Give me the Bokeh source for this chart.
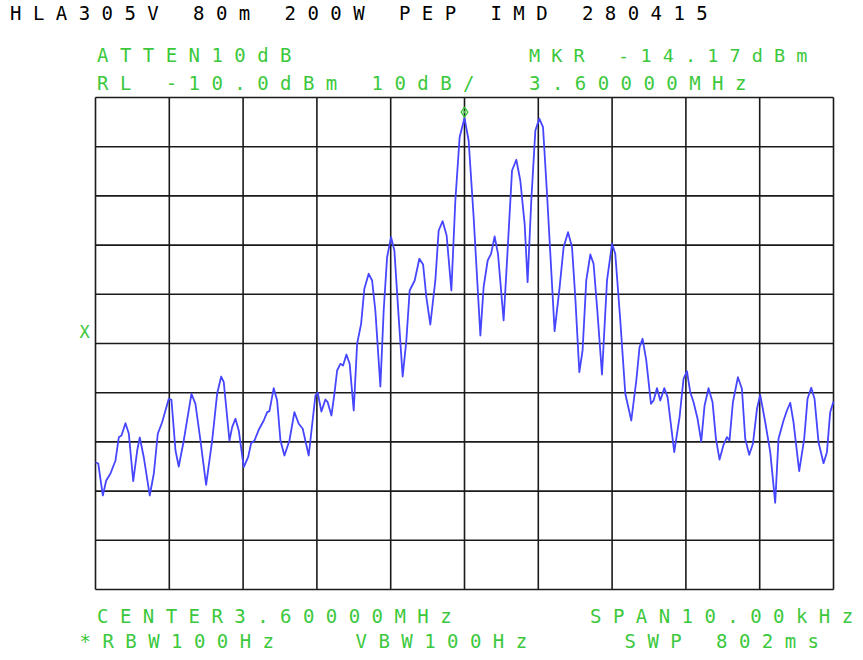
from bokeh.plotting import figure
from bokeh.models import Range1d, Label
from bokeh.embed import file_html
from bokeh.resources import INLINE

# ---------------- data ----------------
center_mhz = 3.60000
span_khz = 10.0
ref_level_dbm = -10.0
db_per_div = 10.0
marker_khz = 0.0
marker_dbm = -14.17

# frequency offset from centre (kHz) and level (dBm)
freq_khz = [
    -5.000, -4.963, -4.901, -4.855, -4.797, -4.729, -4.684, -4.648, -4.594, -4.549,
    -4.489, -4.435, -4.400, -4.346, -4.265, -4.210, -4.156, -4.097, -4.007, -3.971,
    -3.916, -3.872, -3.804, -3.700, -3.646, -3.578, -3.501, -3.419, -3.352, -3.297,
    -3.262, -3.185, -3.148, -3.104, -3.059, -2.991, -2.932, -2.891, -2.846, -2.788,
    -2.720, -2.674, -2.643, -2.585, -2.539, -2.494, -2.440, -2.372, -2.305, -2.246,
    -2.192, -2.111, -2.020, -1.989, -1.939, -1.885, -1.854, -1.803, -1.763, -1.726,
    -1.682, -1.645, -1.600, -1.556, -1.501, -1.455, -1.401, -1.357, -1.298, -1.252,
    -1.208, -1.140, -1.095, -1.049, -0.995, -0.950, -0.892, -0.838, -0.788, -0.743,
    -0.675, -0.612, -0.561, -0.517, -0.463, -0.395, -0.350, -0.296, -0.242, -0.178,
    -0.124, -0.066, 0.000, 0.056, 0.124, 0.215, 0.259, 0.314, 0.360, 0.408,
    0.454, 0.530, 0.584, 0.644, 0.702, 0.756, 0.815, 0.855, 0.905, 0.960,
    1.014, 1.064, 1.118, 1.221, 1.289, 1.343, 1.403, 1.457, 1.501, 1.556,
    1.600, 1.650, 1.705, 1.749, 1.803, 1.863, 1.931, 1.999, 2.043, 2.111,
    2.179, 2.260, 2.328, 2.372, 2.413, 2.463, 2.527, 2.562, 2.608, 2.653,
    2.707, 2.752, 2.842, 2.914, 2.968, 3.014, 3.059, 3.104, 3.158, 3.208,
    3.253, 3.307, 3.361, 3.407, 3.456, 3.510, 3.556, 3.591, 3.637, 3.705,
    3.759, 3.804, 3.858, 3.908, 3.963, 4.007, 4.075, 4.143, 4.210, 4.255,
    4.323, 4.369, 4.414, 4.458, 4.535, 4.603, 4.648, 4.698, 4.743, 4.797,
    4.865, 4.911, 4.955, 5.000,
]

level_dbm = [
    -84.13, -84.39, -90.89, -87.84, -86.42, -83.78, -79.04, -78.70, -76.20, -78.29,
    -87.99, -81.75, -79.11, -83.11, -90.89, -86.48, -78.35, -76.00, -71.24, -71.44,
    -81.75, -85.00, -79.71, -70.22, -72.26, -79.71, -88.72, -79.71, -70.22, -66.71,
    -67.87, -79.71, -77.01, -75.30, -77.68, -85.14, -83.11, -80.26, -79.71, -77.54,
    -75.65, -73.96, -73.76, -69.08, -71.58, -79.71, -82.76, -79.71, -73.96, -76.32,
    -77.34, -82.76, -70.57, -70.02, -73.82, -71.38, -71.93, -74.63, -70.22, -65.49,
    -64.13, -64.47, -62.24, -64.13, -73.62, -60.06, -56.00, -48.88, -45.83, -47.19,
    -53.29, -68.74, -53.29, -42.46, -38.39, -41.10, -54.65, -66.71, -59.39, -49.23,
    -47.19, -42.78, -43.94, -50.59, -56.14, -47.19, -37.03, -35.14, -38.05, -49.23,
    -30.93, -18.07, -14.17, -18.74, -34.33, -58.37, -48.56, -43.13, -41.77, -38.25,
    -41.77, -55.32, -41.10, -24.84, -22.66, -26.87, -35.67, -47.54, -30.93, -16.71,
    -14.30, -16.04, -29.57, -57.50, -48.56, -40.43, -37.38, -40.43, -50.59, -65.83,
    -61.42, -47.19, -41.91, -43.80, -53.96, -66.30, -47.19, -39.74, -41.77, -55.32,
    -70.22, -75.65, -67.52, -60.75, -59.04, -63.45, -72.26, -71.58, -69.08, -71.58,
    -69.08, -70.91, -82.09, -74.98, -67.17, -65.63, -69.90, -71.93, -75.30, -79.92,
    -72.60, -69.08, -71.93, -79.37, -83.58, -80.59, -79.04, -79.71, -71.93, -66.85,
    -69.21, -79.37, -82.62, -80.39, -73.27, -70.43, -76.00, -82.09, -92.38, -79.37,
    -75.65, -73.62, -72.05, -76.00, -85.95, -79.37, -71.24, -69.00, -71.24, -80.06,
    -84.33, -82.09, -73.96, -71.79,
]

title_text = "HLA305V 80m 200W PEP IMD 280415"
top_left_lines = ["ATTEN10dB", "RL -10.0dBm 10dB/"]
top_right_lines = ["MKR -14.17dBm", "3.60000MHz"]
bottom_left_1 = "CENTER3.60000MHz"
bottom_right_1 = "SPAN10.00kHz"
bottom_row_2 = ["*RBW100Hz", "VBW100Hz", "SWP 802ms"]

# ---------------- layout ----------------
W, H = 863, 660
FL, FT, FR, FB = 95, 97, 833, 589   # graticule edges in page pixels
GREEN = "#3cc83c"
BLUE = "#4646ff"
MONO = "DejaVu Sans Mono"
FS = "19px"


def spaced(s):
    # analyser character cells: one blank cell between glyphs,
    # real blanks kept as no-break spaces so they do not collapse
    return " ".join("\u00a0" if c == " " else c for c in s)


half = span_khz / 2
bottom_level = ref_level_dbm - 10 * db_per_div

# the plot frame fills the whole canvas; ranges are widened so that the
# graticule (-5..5 kHz, -110..-10 dBm) lands at the wanted pixel box
kx = span_khz / (FR - FL)
ky = (ref_level_dbm - bottom_level) / (FB - FT)
x0, x1 = -half - FL * kx, half + (W - FR) * kx
y0, y1 = bottom_level - (H - FB) * ky, ref_level_dbm + FT * ky

p = figure(
    width=W, height=H, output_backend="svg", toolbar_location=None,
    x_range=Range1d(x0, x1), y_range=Range1d(y0, y1),
    x_axis_location=None, y_axis_location=None,
    min_border_left=0, min_border_right=0, min_border_top=0, min_border_bottom=0,
)
p.background_fill_color = "white"
p.border_fill_color = "white"
p.outline_line_color = None
p.xgrid.visible = False
p.ygrid.visible = False

x_ticks = [-half + i * span_khz / 10 for i in range(11)]
y_ticks = [bottom_level + i * db_per_div for i in range(11)]

# graticule
p.segment(x0=x_ticks, y0=[bottom_level] * len(x_ticks), x1=x_ticks, y1=[ref_level_dbm] * len(x_ticks),
          line_color="#1a1a1a", line_width=1.6)
p.segment(x0=[-half] * len(y_ticks), y0=y_ticks, x1=[half] * len(y_ticks), y1=y_ticks,
          line_color="#1a1a1a", line_width=1.6)

p.line(freq_khz, level_dbm, line_color=BLUE, line_width=1.8, line_join="round")

# marker symbol drawn just above the marked peak
p.scatter([marker_khz], [marker_dbm + 1.2], marker="diamond_dot", size=10,
          line_color=GREEN, fill_color=None, line_width=1.4)


def put(page_x, page_cy, txt, color=GREEN, size=FS, align="left"):
    # screen units: origin at the frame's (= canvas') bottom-left corner
    p.add_layout(Label(x=page_x, y=H - page_cy, x_units="screen", y_units="screen",
                       text=txt, text_font=MONO, text_font_size=size, text_color=color,
                       text_baseline="middle", text_align=align))


put(9.5, 12.5, spaced(title_text), color="black", size="19px")

put(96.5, 54.5, spaced(top_left_lines[0]))
put(96.5, 82, spaced(top_left_lines[1]))
put(528.5, 54.5, spaced(top_right_lines[0]), size="18.5px")
put(528.5, 82, spaced(top_right_lines[1]))
put(96.5, 615.5, spaced(bottom_left_1))
put(589.5, 615.5, spaced(bottom_right_1))
put(79, 640.5, spaced(bottom_row_2[0]))
put(355, 640.5, spaced(bottom_row_2[1]))
put(624, 640.5, spaced(bottom_row_2[2]))

# reference-level "X" indicator left of the graticule
put(84, 331, "X", size="17px", align="center")

open("out.html", "w").write(file_html(p, INLINE))
